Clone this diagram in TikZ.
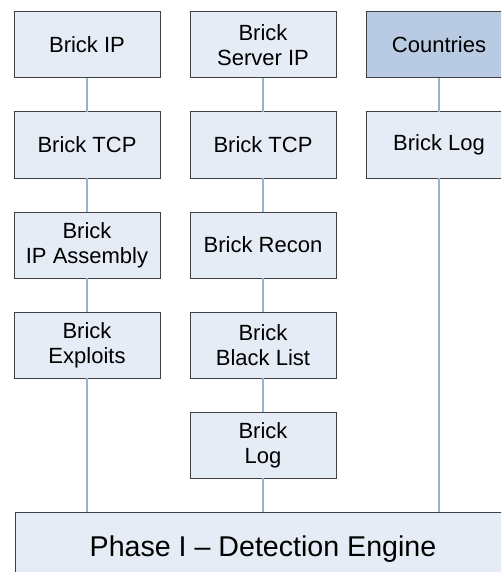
\documentclass[tikz,border=0pt]{standalone}
\usepackage{fontspec}
\setmainfont{Liberation Sans}
\usetikzlibrary{
    positioning % Para posicionar nós de forma relativa (ex: below=of)
}
\definecolor{brickfill}{RGB}{230,236,246}
\definecolor{countryfill}{RGB}{185,202,227}
\definecolor{linkblue}{RGB}{149,179,215}
\definecolor{brickborder}{RGB}{64,64,64}

\begin{document}
\begin{tikzpicture}[node distance=34pt and 30pt] % Distância padrão entre os nós

    % --- Definição de Estilos ---
    \tikzset{
        % Estilo para as caixas dos bricks
        brick_box/.style={
            draw=brickborder,
            rectangle,
            line width=1pt,
            fill=brickfill, % Fundo azul bem claro
            minimum width=146pt,
            minimum height=66pt,
            inner sep=0pt,
            outer sep=0pt,
            align=center,
            font=\fontsize{22}{25}\selectfont
        },
        % Estilo para as linhas de ligação
        brick_link/.style={
            line width=1.5pt,
            draw=linkblue
        }
    }

    % --- Área visível da figura ---
    \clip (0,0) rectangle (501pt,-572pt);

    % --- Coluna 1 ---
    \node[brick_box] (ip) at (87pt,-45pt) {Brick IP};
    \node[brick_box, below=of ip] (tcp_a) {Brick TCP};
    \node[brick_box, below=of tcp_a] (assembly) {Brick\\IP Assembly};
    \node[brick_box, below=of assembly] (exploits) {Brick\\Exploits};

    % --- Coluna 2 ---
    \node[brick_box, right=of ip] (server_ip) {Brick\\Server IP};
    \node[brick_box, below=of server_ip] (tcp_b) {Brick TCP};
    \node[brick_box, below=of tcp_b] (recon) {Brick Recon};
    \node[brick_box, below=of recon] (blacklist) {Brick\\Black List};
    \node[brick_box, below=of blacklist] (log_b) {Brick\\Log};

    % --- Coluna 3 ---
    \node[brick_box, fill=countryfill, right=of server_ip] (countries) {Countries};
    \node[brick_box, below=of countries] (log_a) {Brick Log};

    % --- Motor de detecção ---
    \node[brick_box, below=of log_b, minimum width=495pt, minimum height=74pt,
          font=\fontsize{28.6}{34}\selectfont] (engine) {Phase I -- Detection Engine};

    % --- Desenhando as Ligações ---
    \draw[brick_link] (ip.south) -- (tcp_a.north);
    \draw[brick_link] (tcp_a.south) -- (assembly.north);
    \draw[brick_link] (assembly.south) -- (exploits.north);
    \draw[brick_link] (exploits.south) -- (exploits.south |- engine.north);

    \draw[brick_link] (server_ip.south) -- (tcp_b.north);
    \draw[brick_link] (tcp_b.south) -- (recon.north);
    \draw[brick_link] (recon.south) -- (blacklist.north);
    \draw[brick_link] (blacklist.south) -- (log_b.north);
    \draw[brick_link] (log_b.south) -- (engine.north -| log_b.south);

    \draw[brick_link] (countries.south) -- (log_a.north);
    \draw[brick_link] (log_a.south) -- (log_a.south |- engine.north);

\end{tikzpicture}
\end{document}
